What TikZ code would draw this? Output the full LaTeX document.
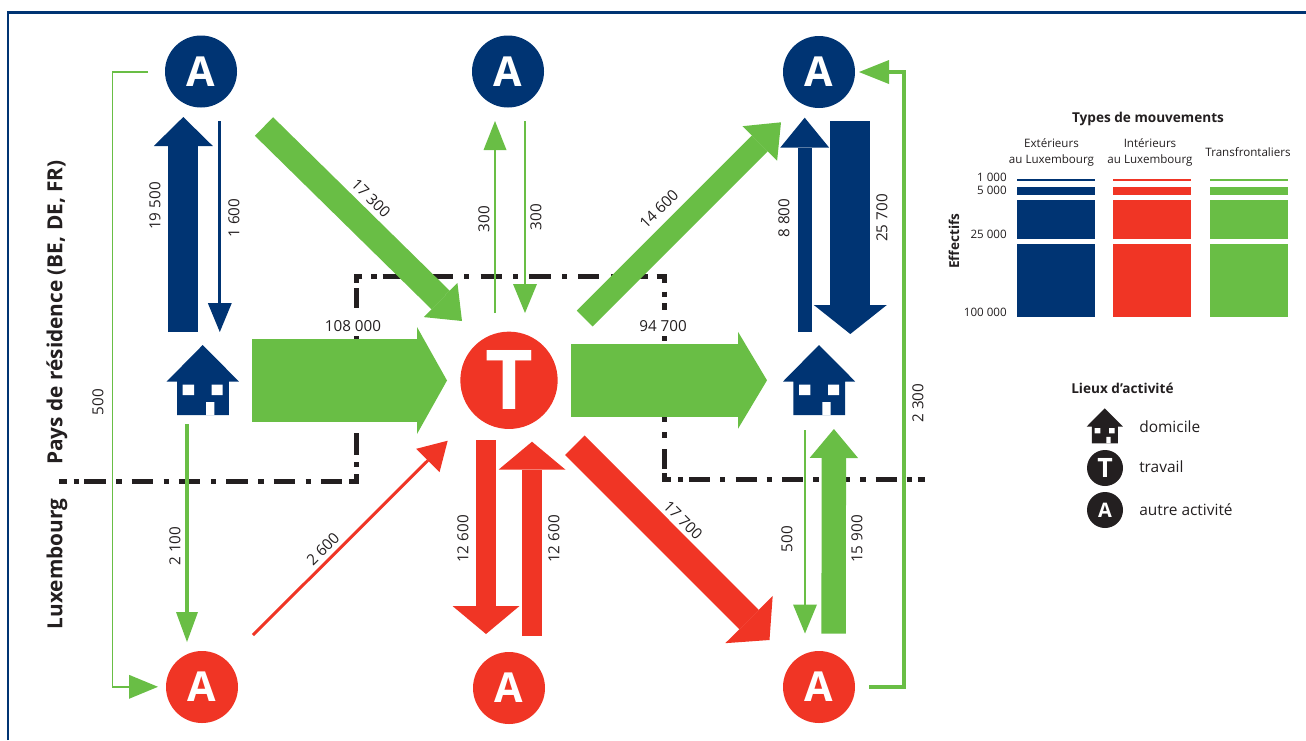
\documentclass[tikz,border=0pt]{standalone}
\usepackage{fontspec}
\setmainfont{Open Sans}
\usetikzlibrary{arrows.meta}
\definecolor{navy}{HTML}{003473}
\definecolor{rouge}{HTML}{F03525}
\definecolor{vert}{HTML}{69BE45}
\definecolor{noir}{HTML}{231F20}
\tikzset{
  flow/.style n args={4}{draw=#1,line width=#2*0.75pt,-{Triangle[length=#4*0.75pt,width=#3*0.75pt,line width=0pt]}},
  val/.style={font=\fontsize{11.4pt}{13pt}\selectfont,text=noir,inner sep=0.5pt},
  placeA/.style={circle,fill=#1,minimum size=54pt,inner sep=0pt,text=white,font=\bfseries\fontsize{31pt}{33pt}\selectfont},
  placeT/.style={circle,fill=rouge,minimum size=73pt,inner sep=0pt,text=white,font=\bfseries\fontsize{62pt}{64pt}\selectfont},
  legA/.style={circle,fill=noir,minimum size=27pt,inner sep=0pt,text=white,font=\bfseries\fontsize{#1}{18pt}\selectfont},
  border/.style={noir,line width=3.75pt,line join=miter},
  sidetitle/.style={rotate=90,font=\bfseries\fontsize{15.6pt}{18pt}\selectfont,text=noir,inner sep=0pt},
  legtitle/.style={font=\bfseries\fontsize{10.2pt}{11pt}\selectfont,text=noir,inner sep=0pt},
  legtext/.style={font=\fontsize{8.7pt}{12pt}\selectfont,text=noir,inner sep=0pt,align=center},
  legitem/.style={font=\fontsize{11.6pt}{13pt}\selectfont,text=noir,inner sep=0pt,anchor=west},
}
\newcommand{\maison}[3]{%
  \begin{scope}[shift={(#2)},x=#3*0.75pt,y=-#3*0.75pt]
    \fill[#1] (0,0) -- (36.2,36.5) -- (26.2,36.5) -- (26.2,70) -- (-25.7,70) -- (-25.7,36.5) -- (-36,36.5) -- cycle;
    \fill[white] (-20,39.5) rectangle (-8.7,50) (9,39.5) rectangle (20,50) (3.3,57) rectangle (11.6,70);
  \end{scope}}
\begin{document}
\begin{tikzpicture}[x=0.75pt,y=-0.75pt]
\useasboundingbox (0,0) rectangle (1306,740);
% frame
\draw[navy,line width=2.2pt] (8,740) -- (8,12.5) -- (1306,12.5);
% frontier, piece by piece
\foreach \a/\b in {59/66.7,73.7/79,84.3/105.7,116.3/121.7,131.6/153,163.6/169,178.9/200.2,210.9/216.2,226.2/247.5,258.2/263.5,273.5/294.8,305.5/310.8,320.8/342}
  \draw[border] (\a,481.3) -- (\b,481.3);
\draw[border] (349,481.3) -- (356.5,481.3) -- (356.5,474);
\foreach \a/\b in {462/467,433.3/455,336/357,288/308.3}
  \draw[border] (356.5,\a) -- (356.5,\b);
\draw[border] (362.3,276.8) -- (356.5,276.8) -- (356.5,283);
\foreach \a/\b in {371/376.7,382.7/404,415.4/420.6,431.7/453.3,464.3/469.3,480.7/501.7,513.3/518.3,529.3/550.7,562/567.3,578.3/599.3,611/616,627/648.3}
  \draw[border] (\a,276.8) -- (\b,276.8);
\draw[border] (656.7,276.8) -- (664,276.8) -- (664,283.3);
\foreach \a/\b in {291.7/296.7,303.3/310,336/340.7,400/421.7,432.3/437.7,449/469}
  \draw[border] (664,\a) -- (664,\b);
\draw[border] (664,473.3) -- (664,479.8) -- (671,479.8);
\foreach \a/\b in {678.3/683.3,689/710,720/725.3,735.7/756.7,766.7/772,782.3/803.3,813.3/818.7,829/850,860/865.7,875.7/896.7,906.7/912,917.7/925}
  \draw[border] (\a,479.8) -- (\b,479.8);
% places
\node[placeA=navy] (a1) at (201,71.5) {A};
\node[placeA=navy] (a2) at (508,71.5) {A};
\node[placeA=navy] (a3) at (819,72) {A};
\node[placeA=rouge] (b1) at (202,687) {A};
\node[placeA=rouge] (b2) at (509,688) {A};
\node[placeA=rouge] (b3) at (819,687) {A};
\node[placeT] (t) at (509,380.3) {T};
\maison{navy}{202.7,345}{1}
\maison{navy}{819,345}{1}
% connector ends
\coordinate (s1) at (183.3,332); \coordinate (e1) at (183.3,117);
\coordinate (s2) at (219.8,121); \coordinate (e2) at (219.8,332);
\coordinate (s3) at (252,380.5); \coordinate (e3) at (447,380.5);
\coordinate (s4) at (571,380.3); \coordinate (e4) at (767,380.3);
\coordinate (s5) at (264,126.5); \coordinate (e5) at (462,321);
\coordinate (s6) at (495,313); \coordinate (e6) at (495,121);
\coordinate (s7) at (525,121); \coordinate (e7) at (525,313);
\coordinate (s8) at (584.7,318.5); \coordinate (e8) at (781,122.3);
\coordinate (s9) at (804.7,332); \coordinate (e9) at (804.7,117.7);
\coordinate (s10) at (850.3,121); \coordinate (e10) at (850.3,334);
\coordinate (s11) at (869,687); \coordinate (m11a) at (904,687); \coordinate (m11b) at (904,72); \coordinate (e11) at (859,72);
\coordinate (s12) at (148,72); \coordinate (m12a) at (112.7,72); \coordinate (m12b) at (112.7,686.8); \coordinate (e12) at (158,686.8);
\coordinate (s13) at (187,424); \coordinate (e13) at (187,642);
\coordinate (s14) at (253,635); \coordinate (e14) at (447.7,440.7);
\coordinate (s15) at (486,440); \coordinate (e15) at (486,634);
\coordinate (s16) at (532,636); \coordinate (e16) at (532,441.7);
\coordinate (s17) at (574.8,445.2); \coordinate (e17) at (769.5,640);
\coordinate (s18) at (805,430); \coordinate (e18) at (805,633.5);
\coordinate (s19) at (833.6,633.7); \coordinate (e19) at (833.9,429);
% connectors
\draw[flow={navy}{30}{59}{29}] (s1) -- (e1);
\draw[flow={navy}{3}{24}{29}] (s2) -- (e2);
\draw[flow={vert}{83}{107}{30}] (s3) -- (e3);
\draw[flow={vert}{73}{97}{29}] (s4) -- (e4);
\draw[flow={vert}{26}{48}{30}] (s5) -- (e5);
\draw[flow={vert}{2}{23}{29}] (s6) -- (e6);
\draw[flow={vert}{2}{24}{29}] (s7) -- (e7);
\draw[flow={vert}{22.5}{49}{30}] (s8) -- (e8);
\draw[flow={navy}{14}{49}{30}] (s9) -- (e9);
\draw[flow={navy}{40}{73}{29}] (s10) -- (e10);
\draw[flow={vert}{3.6}{24}{30},line join=miter] (s11) -- (m11a) -- (m11b) -- (e11);
\draw[flow={vert}{1.5}{24}{29},line join=miter] (s12) -- (m12a) -- (m12b) -- (e12);
\draw[flow={vert}{4}{22}{30}] (s13) -- (e13);
\draw[flow={rouge}{3}{33}{28}] (s14) -- (e14);
\draw[flow={rouge}{20}{67}{28}] (s15) -- (e15);
\draw[flow={rouge}{20}{67}{28}] (s16) -- (e16);
\draw[flow={rouge}{27.5}{67}{29}] (s17) -- (e17);
\draw[flow={vert}{2}{24}{29}] (s18) -- (e18);
\draw[flow={vert}{24.4}{48.5}{29}] (s19) -- (e19);
% values
\node[val,rotate=90] (v1) at (155,206) {19 500};
\node[val,rotate=90] (v2) at (234,218) {1 600};
\node[val,rotate=-45] (v3) at (371,198) {17 300};
\node[val,rotate=90] (v4) at (484,219) {300};
\node[val,rotate=90] (v5) at (536,217) {300};
\node[val,rotate=45] (v6) at (659,209) {14 600};
\node[val,rotate=90] (v7) at (784,218) {8 800};
\node[val,rotate=90] (v8) at (882,218) {25 700};
\node[val] (v9) at (353,326) {108 000};
\node[val] (v10) at (663,326) {94 700};
\node[val,rotate=90] (v11) at (175,546) {2 100};
\node[val,rotate=45] (v12) at (323,549) {2 600};
\node[val,rotate=90] (v13) at (463,539) {12 600};
\node[val,rotate=90] (v14) at (554,539) {12 600};
\node[val,rotate=-45] (v15) at (683,520) {17 700};
\node[val,rotate=90] (v16) at (787,539) {500};
\node[val,rotate=90] (v17) at (857,539) {15 900};
\node[val,rotate=90] (v18) at (918,403) {2 300};
\node[val,rotate=90] (v19) at (98,402) {500};
\node[sidetitle] (p1) at (57,312.5) {Pays de résidence (BE, DE, FR)};
\node[sidetitle] (p2) at (57,564) {Luxembourg};
% legend : movements
\node[legtitle] (l0) at (1148,119) {Types de mouvements};
\node[legtext] (l1) at (1051.5,152) {Extérieurs\\au Luxembourg};
\node[legtext] (l2) at (1150,152) {Intérieurs\\au Luxembourg};
\node[legtext] (l3) at (1248,152) {Transfrontaliers};
\foreach \c/\xa/\xb in {navy/1017/1095,rouge/1113/1191,vert/1210/1288}{
  \fill[\c] (\xa,179) rectangle (\xb,181);
  \fill[\c] (\xa,187) rectangle (\xb,195);
  \fill[\c] (\xa,200) rectangle (\xb,239);
  \fill[\c] (\xa,244) rectangle (\xb,317);
}
\node[legtext,anchor=east] (n1) at (1007,177) {1 000};
\node[legtext,anchor=east] (n2) at (1007,190.5) {5 000};
\node[legtext,anchor=east] (n3) at (1007,234) {25 000};
\node[legtext,anchor=east] (n4) at (1007,312) {100 000};
\node[legtitle,rotate=90] (n5) at (954,241) {Effectifs};
% legend : places
\node[legtitle,anchor=west] (k0) at (1071,388) {Lieux d’activité};
\maison{noir}{1104.7,408.3}{0.5}
\node[legitem] (k1) at (1139,427) {domicile};
\node[legA=20pt] (k2) at (1105,468) {T};
\node[legitem] (k3) at (1139,467) {travail};
\node[legA=15pt] (k4) at (1105,510) {A};
\node[legitem] (k5) at (1139,510) {autre activité};
\end{tikzpicture}
\end{document}
